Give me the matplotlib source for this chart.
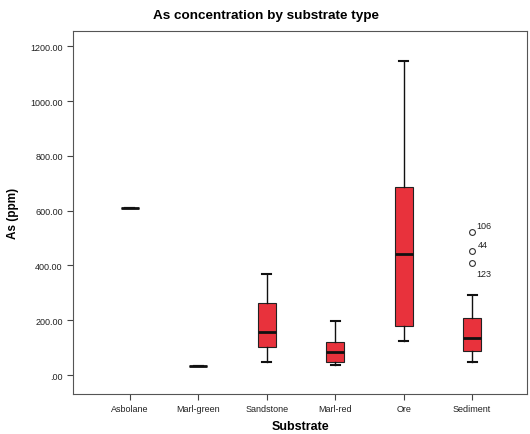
import numpy as np
import matplotlib.pyplot as plt

plt.rcParams['font.family'] = ['Liberation Sans', 'DejaVu Sans']

substrates = ["Asbolane", "Marl-green", "Sandstone", "Marl-red", "Ore", "Sediment"]
whisker_low = [610, 33, 47, 35, 125, 49]
q1 = [610, 33, 102, 47, 178, 88]
median = [610, 33, 156, 84, 442, 134]
q3 = [610, 33, 263, 122, 686, 209]
whisker_high = [610, 33, 369, 196, 1145, 292]
outliers = [[], [], [], [], [], [521, 453, 410]]
outlier_ids = [[], [], [], [], [], ["106", "44", "123"]]
yticks = [0, 200, 400, 600, 800, 1000, 1200]
ytick_labels = [".00", "200.00", "400.00", "600.00", "800.00", "1000.00", "1200.00"]

stats = []
for i, name in enumerate(substrates):
    stats.append(dict(label=name, whislo=whisker_low[i], q1=q1[i], med=median[i],
                      q3=q3[i], whishi=whisker_high[i], fliers=outliers[i]))

fig = plt.figure(figsize=(5.3, 4.35), dpi=100)
ax = fig.add_axes([0.138, 0.092, 0.856, 0.834])

pos = np.arange(len(substrates))
ax.bxp(stats, positions=pos, widths=0.26, patch_artist=True, showfliers=True,
       boxprops=dict(facecolor="#e8323c", edgecolor="#222222", linewidth=0.8),
       medianprops=dict(color="#111111", linewidth=2),
       whiskerprops=dict(color="#111111", linewidth=1),
       capprops=dict(color="#111111", linewidth=1.5),
       capwidths=0.13,
       flierprops=dict(marker="o", markerfacecolor="none", markeredgecolor="#333333",
                       markersize=4.2, markeredgewidth=0.8))

# outlier case numbers
offsets = [(3, 5), (4, 5), (3, -8)]
for i in pos:
    for v, lab, off in zip(outliers[i], outlier_ids[i], offsets):
        ax.annotate(lab, xy=(i, v), xytext=off, textcoords="offset points",
                    fontsize=6.5, color="#222222", va="center")

ax.set_xlim(-0.83, 5.8)
ax.set_ylim(-69, 1255)
ax.set_yticks(yticks)
ax.set_yticklabels(ytick_labels, fontsize=6.5, color="#222222")
ax.set_xticks(pos)
ax.set_xticklabels(substrates, fontsize=6.5, color="#222222")
ax.tick_params(direction="out", length=4, width=0.8, color="#444444")
for s in ax.spines.values():
    s.set_color("#555555")
    s.set_linewidth(0.8)

ax.set_ylabel("As (ppm)", fontsize=8.5, fontweight="bold", labelpad=8)
ax.set_xlabel("Substrate", fontsize=9, fontweight="bold", labelpad=5)
fig.text(0.502, 0.963, "As concentration by substrate type", ha="center", va="center",
         fontsize=9.7, fontweight="bold")

plt.savefig("out.png", dpi=100)
